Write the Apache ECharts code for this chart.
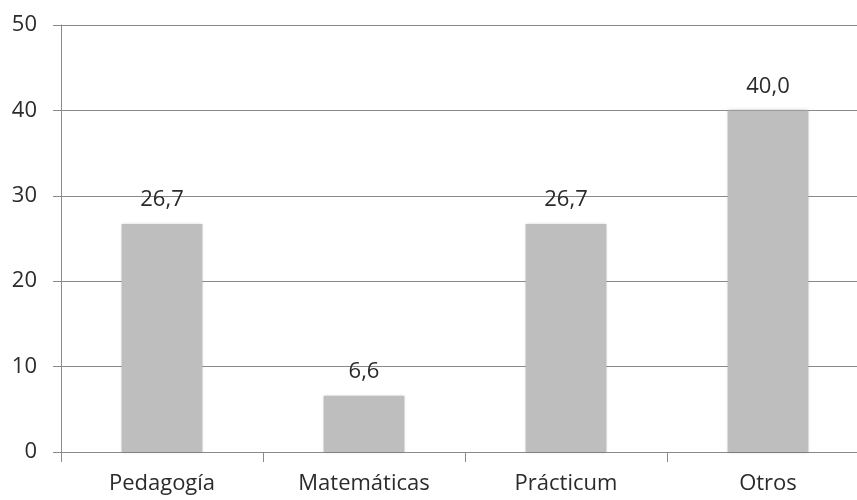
<!DOCTYPE html>
<html>
<head>
<meta charset="utf-8">
<script src="https://cdn.jsdelivr.net/npm/echarts@6/dist/echarts.min.js"></script>
<style>
  html, body { margin: 0; padding: 0; background: #fff; overflow: hidden; width: 857px; height: 500px; }
  /* the plot area runs a little past the right edge of the page */
  #chart { width: 869px; height: 500px; }
</style>
</head>
<body>
<div id="chart"></div>
<script>
const categories = ['Pedagogía', 'Matemáticas', 'Prácticum', 'Otros'];
const values = [26.7, 6.6, 26.7, 40.0];
const yTicks = [0, 10, 20, 30, 40, 50];

const FONT = '"Open Sans", sans-serif';
const TEXT = '#2b2b2b';
const LINE = '#8a8a8a';

const chart = echarts.init(document.getElementById('chart'));
chart.setOption({
  animation: false,
  grid: { left: 61, right: 0, top: 25, bottom: 48, containLabel: false },
  xAxis: {
    type: 'category',
    data: categories,
    axisLine: { lineStyle: { color: LINE, width: 1 } },
    axisTick: { show: true, length: 10, lineStyle: { color: LINE } },
    axisLabel: { color: TEXT, fontFamily: FONT, fontSize: 22, margin: 21 }
  },
  yAxis: {
    type: 'value',
    min: yTicks[0],
    max: yTicks[yTicks.length - 1],
    interval: 10,
    axisLine: { show: true, lineStyle: { color: LINE, width: 1 } },
    axisTick: { show: true, length: 8, lineStyle: { color: LINE } },
    axisLabel: { color: TEXT, fontFamily: FONT, fontSize: 22, margin: 24 },
    splitLine: { show: true, lineStyle: { color: LINE, width: 1 } }
  },
  series: [{
    type: 'bar',
    data: values,
    barWidth: '40%',
    itemStyle: {
      color: '#bebebe',
      shadowColor: 'rgba(0,0,0,0.25)',
      shadowBlur: 3
    },
    label: {
      show: true,
      position: 'top',
      distance: 13,
      color: TEXT,
      fontFamily: FONT,
      fontSize: 22,
      formatter: p => p.value.toFixed(1).replace('.', ',')
    }
  }]
});
</script>
</body>
</html>
